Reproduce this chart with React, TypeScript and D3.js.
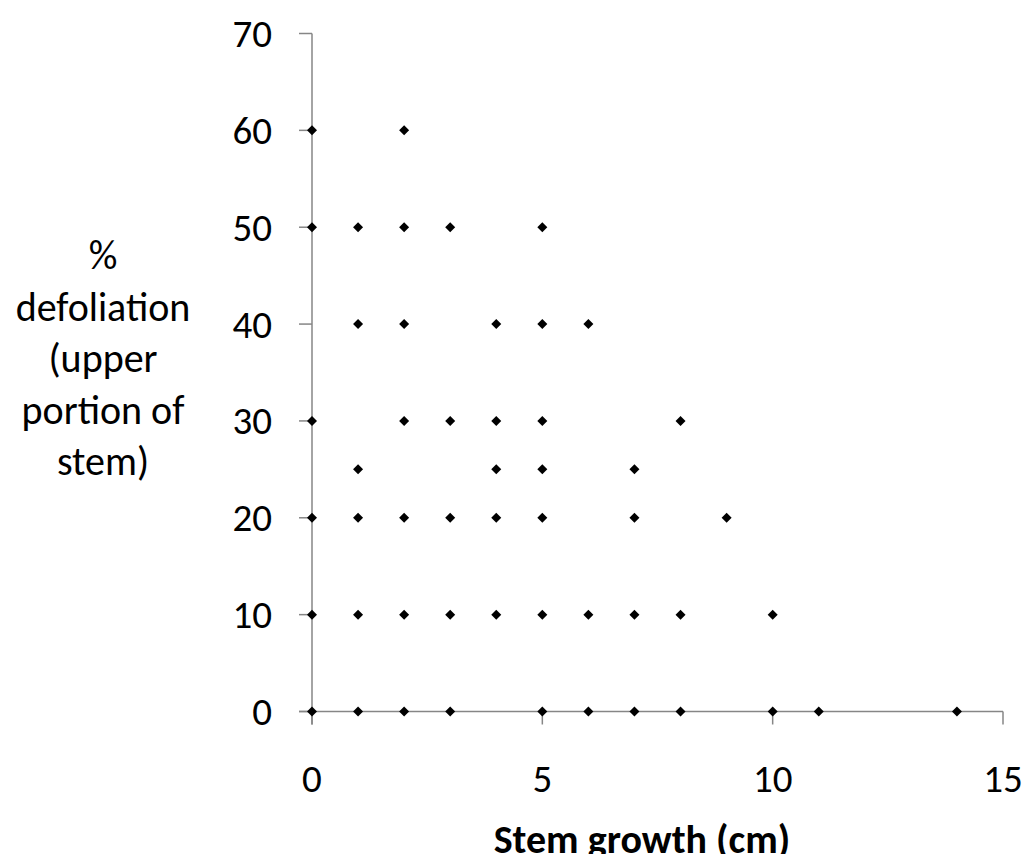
import React from 'react';
import * as d3 from 'd3';

// stem growth (cm) and % defoliation
const stemGrowth = [
  0, 2,
  0, 1, 2, 3, 5,
  1, 2, 4, 5, 6,
  0, 2, 3, 4, 5, 8,
  1, 4, 5, 7,
  0, 1, 2, 3, 4, 5, 7, 9,
  0, 1, 2, 3, 4, 5, 6, 7, 8, 10,
  0, 1, 2, 3, 5, 6, 7, 8, 10, 11, 14,
];
const defoliation = [
  60, 60,
  50, 50, 50, 50, 50,
  40, 40, 40, 40, 40,
  30, 30, 30, 30, 30, 30,
  25, 25, 25, 25,
  20, 20, 20, 20, 20, 20, 20, 20,
  10, 10, 10, 10, 10, 10, 10, 10, 10, 10,
  0, 0, 0, 0, 0, 0, 0, 0, 0, 0, 0,
];
const xTicks = [0, 5, 10, 15];
const yTicks = [0, 10, 20, 30, 40, 50, 60, 70];
const yTitle = ['%', 'defoliation', '(upper', 'portion of', 'stem)'];

const W = 1027;
const H = 854;
const font = 'Carlito, Calibri, Lato, "Open Sans", sans-serif';
const axisColor = '#868686';

export default function App() {
  const x = d3.scaleLinear().domain([0, 15]).range([312, 1003]);
  const y = d3.scaleLinear().domain([0, 70]).range([711.5, 33.5]);
  const diamond = d3.symbol().type(d3.symbolSquare).size(50);

  return (
    <svg width={W} height={H} style={{ position: 'absolute', left: 0, top: 0, background: '#fff' }}>
      {/* y axis */}
      <line x1={x(0)} x2={x(0)} y1={y(70)} y2={y(0) + 13} stroke={axisColor} strokeWidth={1.5} />
      {yTicks.map(t => (
        <g key={'y' + t}>
          <line x1={x(0) - 13} x2={x(0)} y1={y(t)} y2={y(t)} stroke={axisColor} strokeWidth={1.5} />
          <text x={272} y={y(t) + 13.5} textAnchor="end" fontFamily={font} fontSize={39} fill="#000">
            {t}
          </text>
        </g>
      ))}
      {/* x axis */}
      <line x1={x(0) - 13} x2={x(15)} y1={y(0)} y2={y(0)} stroke={axisColor} strokeWidth={1.5} />
      {xTicks.map(t => (
        <g key={'x' + t}>
          <line x1={x(t)} x2={x(t)} y1={y(0)} y2={y(0) + 13} stroke={axisColor} strokeWidth={1.5} />
          <text x={x(t)} y={792} textAnchor="middle" fontFamily={font} fontSize={39} fill="#000">
            {t}
          </text>
        </g>
      ))}
      {/* points */}
      {stemGrowth.map((v, i) => (
        <path key={i} d={diamond() as string} transform={`translate(${x(v)},${y(defoliation[i])}) rotate(45)`} fill="#000" />
      ))}
      {/* titles */}
      <text x={642} y={853} textAnchor="middle" fontFamily={font} fontSize={40} fontWeight="bold" fill="#000">
        Stem growth (cm)
      </text>
      {yTitle.map((s, i) => (
        <text key={s} x={103} y={269 + i * 51.5} textAnchor="middle" fontFamily={font} fontSize={40} fill="#000">
          {s}
        </text>
      ))}
    </svg>
  );
}
